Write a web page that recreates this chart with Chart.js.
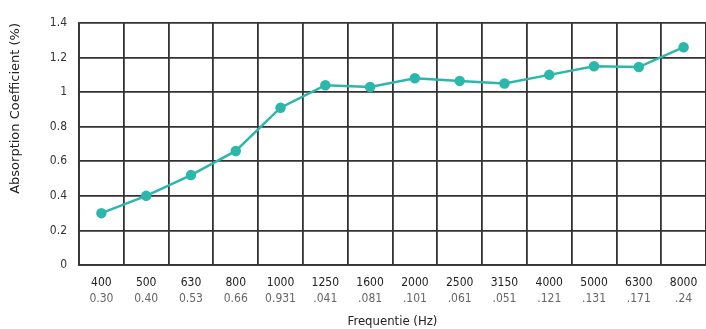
<!DOCTYPE html>
<html lang="nl">
<head>
    <meta charset="UTF-8">
    <title>Absorption Coefficient</title>
    <script src="https://cdn.jsdelivr.net/npm/chart.js"></script>
    <style>
        body {
            margin: 0;
            background-color: #fff;
        }

        .chart-container {
            width: 706px;
            height: 329px;
        }
    </style>
</head>
<body>

    <div class="chart-container">
        <canvas id="grafiek"></canvas>
    </div>

    <script>
        var frequenties = ['400', '500', '630', '800', '1000', '1250', '1600', '2000', '2500', '3150', '4000', '5000', '6300', '8000'];
        var waardeLabels = ['0.30', '0.40', '0.53', '0.66', '0.931', '.041', '.081', '.101', '.061', '.051', '.121', '.131', '.171', '.24'];
        var absorptie = [0.30, 0.40, 0.52, 0.66, 0.91, 1.04, 1.03, 1.08, 1.065, 1.05, 1.10, 1.15, 1.145, 1.26];

        var lettertype = "'Liberation Sans Narrow', 'DejaVu Sans Condensed', sans-serif";
        var rasterKleur = '#333';

        // geen extra ruimte links/rechts voor de labels
        function geenZijPadding(s) {
            s.paddingLeft = 0;
            s.paddingRight = 0;
        }

        var ctx = document.getElementById('grafiek').getContext('2d');
        var grafiek = new Chart(ctx, {
            type: 'line',
            data: {
                labels: frequenties,
                datasets: [{
                    label: 'Absorption Coefficient',
                    data: absorptie,
                    borderColor: '#2bb8ab',
                    backgroundColor: '#2bb8ab',
                    borderWidth: 2.5,
                    pointRadius: 4,
                    pointHoverRadius: 4,
                    tension: 0,
                    fill: false
                }]
            },
            options: {
                responsive: true,
                maintainAspectRatio: false,
                animation: false,
                layout: {
                    autoPadding: false,
                    padding: { top: 23, right: 0, left: 8, bottom: 0 }
                },
                plugins: {
                    legend: { display: false },
                    tooltip: { enabled: false }
                },
                scales: {
                    x: {
                        type: 'category',
                        offset: true,
                        grid: { color: rasterKleur, lineWidth: 1.8, offset: true, drawTicks: false },
                        border: { color: rasterKleur, width: 1.8 },
                        ticks: {
                            color: '#222',
                            font: { family: lettertype, size: 12 },
                            padding: 11,
                            maxRotation: 0,
                            autoSkip: false
                        },
                        afterFit: function (s) { s.height = 27; geenZijPadding(s); }
                    },
                    x2: {
                        type: 'category',
                        position: 'bottom',
                        labels: waardeLabels,
                        offset: true,
                        grid: { display: false, drawTicks: false },
                        border: { display: false },
                        ticks: {
                            color: '#666',
                            font: { family: lettertype, size: 12 },
                            padding: 0,
                            maxRotation: 0,
                            autoSkip: false
                        },
                        title: {
                            display: true,
                            text: 'Frequentie (Hz)',
                            color: '#222',
                            font: { family: "'DejaVu Sans Condensed', sans-serif", size: 13 },
                            padding: { top: 7, bottom: 0 }
                        },
                        afterFit: geenZijPadding
                    },
                    y: {
                        min: 0,
                        max: 1.4,
                        ticks: {
                            stepSize: 0.2,
                            color: '#333',
                            font: { family: lettertype, size: 12 },
                            padding: 12,
                            callback: function (v) { return String(Number(v.toFixed(1))); }
                        },
                        grid: { color: rasterKleur, lineWidth: 1.8, drawTicks: false },
                        border: { color: rasterKleur, width: 1.8 },
                        title: {
                            display: true,
                            text: 'Absorption Coefficient (%)',
                            align: 'end',
                            color: '#222',
                            font: { family: "'DejaVu Sans', sans-serif", size: 13 },
                            padding: { top: 0, bottom: 10 }
                        },
                        afterFit: function (s) { s.width = 71; }
                    }
                }
            }
        });
    </script>

</body>
</html>
